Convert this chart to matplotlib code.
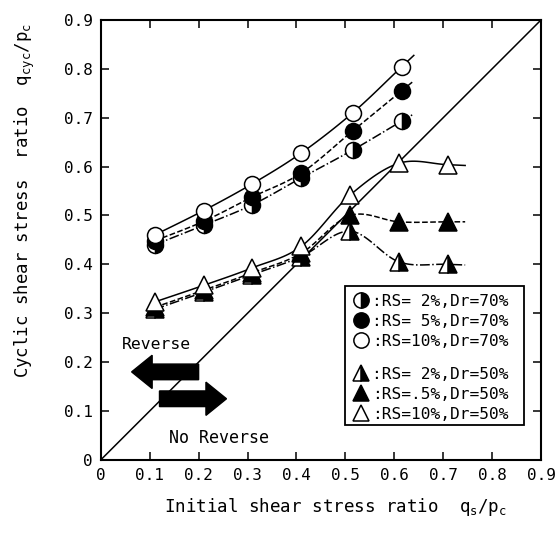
import matplotlib
matplotlib.use('Agg')
import matplotlib.pyplot as plt
import numpy as np
from matplotlib.lines import Line2D
from matplotlib.patches import FancyArrow, Rectangle

plt.rcParams['font.family'] = ['DejaVu Sans Mono']
plt.rcParams['mathtext.fontset'] = 'custom'
plt.rcParams['mathtext.rm'] = 'DejaVu Sans Mono'
plt.rcParams['mathtext.it'] = 'DejaVu Sans Mono'

# initial shear stress ratio qs/pc
qs_circ = [0.11, 0.21, 0.31, 0.41, 0.515, 0.615]
qs_tri = [0.11, 0.21, 0.31, 0.41, 0.51, 0.61, 0.71]

# cyclic shear stress ratio, Dr=70%
dr70_rs2 = [0.440, 0.480, 0.522, 0.577, 0.634, 0.693]
dr70_rs5 = [0.448, 0.488, 0.538, 0.587, 0.673, 0.755]
dr70_rs10 = [0.460, 0.510, 0.565, 0.628, 0.710, 0.804]

# cyclic shear stress ratio, Dr=50%
dr50_rs2 = [0.308, 0.343, 0.379, 0.416, 0.468, 0.405, 0.400]
dr50_rs05 = [0.312, 0.347, 0.383, 0.423, 0.500, 0.487, 0.487]
dr50_rs10 = [0.323, 0.357, 0.393, 0.437, 0.542, 0.607, 0.604]

labels70 = [':RS= 2%,Dr=70%', ':RS= 5%,Dr=70%', ':RS=10%,Dr=70%']
labels50 = [':RS= 2%,Dr=50%', ':RS=.5%,Dr=50%', ':RS=10%,Dr=50%']


def smooth(x, y, ext=0.025, n=20):
    # catmull-rom through the points plus a short run-out past the last one
    x = np.asarray(x, float)
    y = np.asarray(y, float)
    px = np.concatenate([[2 * x[0] - x[1]], x, [2 * x[-1] - x[-2]]])
    py = np.concatenate([[2 * y[0] - y[1]], y, [2 * y[-1] - y[-2]]])
    t = np.linspace(0, 1, n)
    xs, ys = [], []
    for i in range(1, len(px) - 2):
        for p, out in ((px, xs), (py, ys)):
            p0, p1, p2, p3 = p[i - 1], p[i], p[i + 1], p[i + 2]
            out.extend(0.5 * (2 * p1 + (-p0 + p2) * t + (2 * p0 - 5 * p1 + 4 * p2 - p3) * t ** 2
                              + (-p0 + 3 * p1 - 3 * p2 + p3) * t ** 3))
    xs, ys = np.array(xs), np.array(ys)
    dx, dy = xs[-1] - xs[-2], ys[-1] - ys[-2]
    k = ext / dx
    return np.append(xs, xs[-1] + k * dx), np.append(ys, ys[-1] + k * dy)


fig = plt.figure(figsize=(5.6, 5.41), dpi=100)
ax = fig.add_axes([0.180, 0.150, 0.786, 0.813])

lim = [0, 0.9]
ax.plot(lim, lim, color='black', lw=1.1)

ms = 11.5
circ = dict(marker='o', ms=ms, mec='black', mew=1.1, color='black')
tri = dict(marker='^', ms=ms + 1, mec='black', mew=1.1, color='black')

series = [
    (qs_circ, dr70_rs2, '-.', dict(circ, mfc='black', mfcalt='white', fillstyle='right'), 0.025),
    (qs_circ, dr70_rs5, '--', dict(circ, mfc='black'), 0.025),
    (qs_circ, dr70_rs10, '-', dict(circ, mfc='white'), 0.025),
    (qs_tri, dr50_rs2, '-.', dict(tri, mfc='black', mfcalt='white', fillstyle='right'), 0.035),
    (qs_tri, dr50_rs05, '--', dict(tri, mfc='black'), 0.035),
    (qs_tri, dr50_rs10, '-', dict(tri, mfc='white'), 0.035),
]
for x, y, ls, mk, ext in series:
    sx, sy = smooth(x, y, ext)
    ax.plot(sx, sy, ls=ls, color='black', lw=1.1)
    ax.plot(x, y, ls='none', **mk)

# legend, two groups inside one frame
h70 = [Line2D([], [], ls='none', **dict(s[3], ms=11)) for s in series[:3]]
h50 = [Line2D([], [], ls='none', **dict(s[3], ms=12)) for s in series[3:]]
leg_kw = dict(frameon=False, fontsize=11.6, handlelength=1.0, handletextpad=0.2,
              labelspacing=0.32, borderpad=0, borderaxespad=0, loc='upper left')
leg1 = ax.legend(h70, labels70, bbox_to_anchor=(0.572, 0.378), **leg_kw)
ax.add_artist(leg1)
ax.legend(h50, labels50, bbox_to_anchor=(0.572, 0.212), **leg_kw)
ax.add_patch(Rectangle((0.555, 0.080), 0.406, 0.315, transform=ax.transAxes,
                       fill=False, ec='black', lw=1.3, zorder=5))

# reverse / no reverse arrows
ax.add_patch(FancyArrow(0.20, 0.18, -0.095, 0, width=0.032, head_width=0.068,
                        head_length=0.042, length_includes_head=False, color='black'))
ax.add_patch(FancyArrow(0.12, 0.125, 0.095, 0, width=0.032, head_width=0.068,
                        head_length=0.042, length_includes_head=False, color='black'))
ax.text(0.043, 0.236, 'Reverse', fontsize=11.8, va='center', ha='left')
ax.text(0.140, 0.045, 'No Reverse', fontsize=12, va='center', ha='left')

ax.set_xlim(0, 0.9)
ax.set_ylim(0, 0.9)
ticks = np.arange(0, 0.91, 0.1)
ticklabels = ['0'] + ['%.1f' % t for t in ticks[1:]]
ax.set_xticks(ticks)
ax.set_xticklabels(ticklabels)
ax.set_yticks(ticks)
ax.set_yticklabels(ticklabels)
ax.tick_params(direction='in', length=6, width=1.1, labelsize=11.5, pad=6,
               top=True, right=True)
for sp in ax.spines.values():
    sp.set_linewidth(1.5)

ax.set_xlabel('Initial shear stress ratio  $q_s/p_c$', fontsize=12.6)
ax.xaxis.set_label_coords(0.534, -0.083)
ax.set_ylabel('Cyclic shear stress  ratio  $q_{cyc}/p_c$', fontsize=12.5)
ax.yaxis.set_label_coords(-0.145, 0.59)

fig.savefig('out.png', dpi=100)
